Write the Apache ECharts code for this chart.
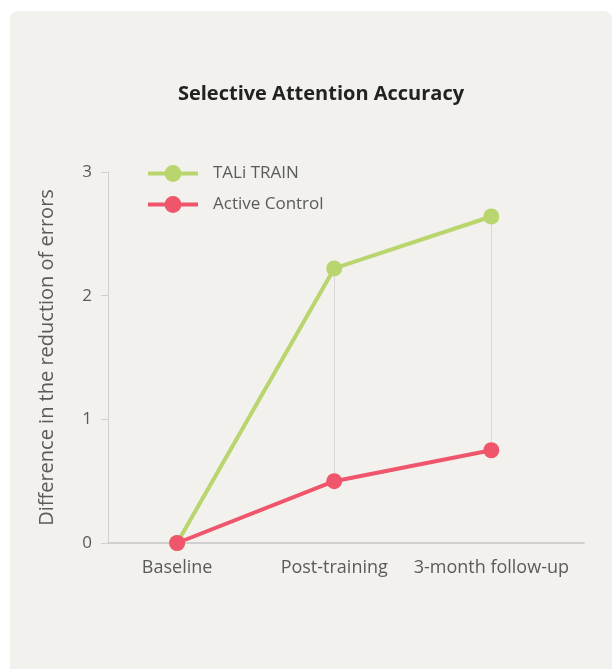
<!DOCTYPE html>
<html>
<head>
<meta charset="utf-8">
<script src="https://cdn.jsdelivr.net/npm/echarts@6/dist/echarts.min.js"></script>
<style>
  html, body { margin: 0; padding: 0; background: #fff; }
  #chart { width: 616px; height: 669px; }
</style>
</head>
<body>
<div id="chart"></div>
<script>
// data
const categories = ["Baseline", "Post-training", "3-month follow-up"];
const taliTrain = [0, 2.22, 2.64];
const activeControl = [0, 0.5, 0.75];
const yTicks = [0, 1, 2, 3];

const green = "#b9d56d";
const red = "#ef566b";
const textColor = "#5a5a5a";
const font = "Open Sans";

const toPoints = (arr) => arr.map((v, i) => [i, v]);

// drop lines between the two series at each follow-up point
const dropLines = categories
  .map((c, i) => i)
  .filter((i) => taliTrain[i] !== activeControl[i])
  .map((i) => [{ coord: [i, activeControl[i]] }, { coord: [i, taliTrain[i]] }]);

const chart = echarts.init(document.getElementById("chart"), null, { renderer: "canvas" });

const option = {
  backgroundColor: "#fff",
  animation: false,
  graphic: [
    {
      type: "rect",
      z: -10,
      shape: { x: 10, y: 11, width: 602, height: 700, r: 8 },
      style: { fill: "#f2f1ed" },
    },
  ],
  title: {
    text: "Selective Attention Accuracy",
    left: 316,
    textAlign: "center",
    top: 79,
    textStyle: { fontFamily: font, fontWeight: "bold", fontSize: 20, color: "#222" },
  },
  legend: {
    orient: "vertical",
    left: 141,
    top: 160,
    itemWidth: 50,
    itemHeight: 21,
    itemGap: 14,
    lineStyle: { width: 4 },
    textStyle: { fontFamily: font, fontSize: 17, color: textColor, padding: [0, 0, 0, 10] },
    data: ["TALi TRAIN", "Active Control"],
  },
  grid: { left: 108, right: 32, top: 172, bottom: 126, containLabel: false },
  xAxis: {
    type: "value",
    min: -0.44,
    max: 2.59,
    axisLine: { show: true, lineStyle: { color: "#cfcfcf", width: 2 } },
    axisTick: { show: false },
    splitLine: { show: false },
    axisLabel: {
      customValues: [0, 1, 2],
      formatter: (v) => categories[Math.round(v)],
      fontFamily: font,
      fontSize: 18,
      color: textColor,
      margin: 16,
    },
  },
  yAxis: {
    type: "value",
    min: yTicks[0],
    max: yTicks[yTicks.length - 1],
    interval: 1,
    name: "Difference in the reduction of errors",
    nameLocation: "middle",
    nameGap: 51,
    nameTextStyle: { fontFamily: font, fontSize: 20, color: textColor },
    axisLine: { show: true, onZero: false, lineStyle: { color: "#cfcfcf", width: 1 } },
    axisTick: { show: true, length: 7, lineStyle: { color: "#cfcfcf" } },
    splitLine: { show: false },
    axisLabel: { fontFamily: font, fontSize: 17, color: textColor, margin: 16 },
  },
  series: [
    {
      name: "TALi TRAIN",
      type: "line",
      data: toPoints(taliTrain),
      color: green,
      symbol: "circle",
      symbolSize: 16,
      lineStyle: { width: 4 },
      z: 3,
      markLine: {
        silent: true,
        symbol: "none",
        label: { show: false },
        lineStyle: { color: "#d8d8d8", width: 1, type: "solid" },
        z: 1,
        data: dropLines,
      },
    },
    {
      name: "Active Control",
      type: "line",
      data: toPoints(activeControl),
      color: red,
      symbol: "circle",
      symbolSize: 16,
      lineStyle: { width: 4 },
      z: 4,
    },
  ],
};

chart.setOption(option);
</script>
</body>
</html>
